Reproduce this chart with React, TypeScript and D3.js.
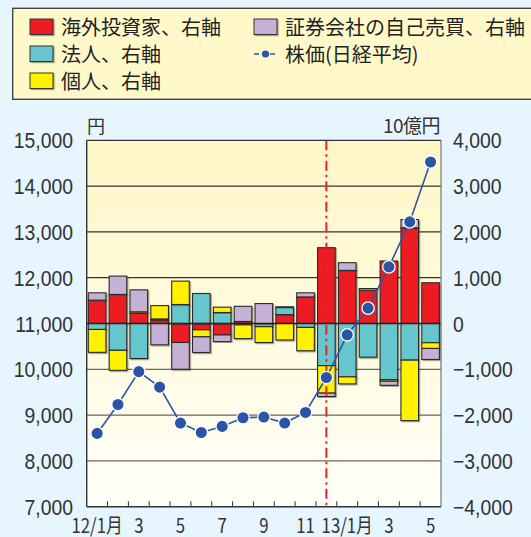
import * as d3 from "d3";

const months = ["12/1月", "2", "3", "4", "5", "6", "7", "8", "9", "10", "11", "12", "13/1月", "2", "3", "4", "5"];
const shownTicks = ["12/1月", "3", "5", "7", "9", "11", "13/1月"];

// 10億円, net buying (+) / selling (-)
const foreign = [510, 635, 220, 75, -415, -138, -250, 45, 0, 195, 580, 1655, 1160, 730, 1365, 2090, 890];
const corporate = [-130, -585, -765, 25, 415, 655, 240, -30, -70, 150, -85, -920, -1165, -735, -1225, -800, -420];
const individual = [-500, -437, 35, 290, 510, -153, 117, -300, -345, -360, -510, -600, -153, 35, -35, -1320, -125];
const dealer = [160, 400, 480, -465, -583, -342, -145, 330, 435, 20, 90, -75, 168, 0, -90, 180, -240];

// 日経平均 (円)
const nikkei = [8600, 9232, 9950, 9610, 8826, 8621, 8753, 8942, 8957, 8826, 9058, 9821, 10753, 11335, 12236, 13218, 14527];

const leftTicks = [7000, 8000, 9000, 10000, 11000, 12000, 13000, 14000, 15000];
const rightTicks = [-4000, -3000, -2000, -1000, 0, 1000, 2000, 3000, 4000];

const seriesKeys = ["foreign", "corporate", "individual", "dealer"];
const seriesColors: Record<string, string> = {
  foreign: "#ED1C24",
  corporate: "#66C6CE",
  individual: "#FFF100",
  dealer: "#C6B1D6",
};

const W = 531;
const H = 537;
const plot = { left: 86.7, right: 441, top: 140.3, bottom: 506.7 };
const JP = "'Noto Sans CJK JP', 'Noto Sans', sans-serif";
const NUM = "'Liberation Sans', Arial, sans-serif";
const SQX = 0.88; // horizontal squeeze for the narrow numerals

export default function App() {
  const rows = months.map((m, i) => ({
    month: m,
    foreign: foreign[i],
    corporate: corporate[i],
    individual: individual[i],
    dealer: dealer[i],
  }));

  const slot = (plot.right - plot.left) / months.length;
  const xc = (i: number) => plot.left + slot * (i + 0.5);
  const barW = slot * 0.845;

  const yL = d3.scaleLinear().domain([7000, 15000]).range([plot.bottom, plot.top]);
  const yR = d3.scaleLinear().domain([-4000, 4000]).range([plot.bottom, plot.top]);

  const stacked = d3
    .stack<any>()
    .keys(seriesKeys)
    .offset(d3.stackOffsetDiverging)(rows);

  const line = d3
    .line<number>()
    .x((_, i) => xc(i))
    .y((d) => yL(d));

  const legendItems = [
    { label: "海外投資家、右軸", color: seriesColors.foreign, col: 0, row: 0 },
    { label: "法人、右軸", color: seriesColors.corporate, col: 0, row: 1 },
    { label: "個人、右軸", color: seriesColors.individual, col: 0, row: 2 },
    { label: "証券会社の自己売買、右軸", color: seriesColors.dealer, col: 1, row: 0 },
  ];
  const legCol = [30, 254];
  const legRow = [27, 54, 81];

  const divX = xc(11);
  const fmt = d3.format(",");

  return (
    <svg
      width={W}
      height={H}
      style={{ position: "absolute", left: 0, top: 0, display: "block" }}
    >
      <defs>
        <linearGradient id="plotbg" x1="0" y1="0" x2="0" y2="1">
          <stop offset="0%" stopColor="#FFF7C6" />
          <stop offset="100%" stopColor="#FFFFF7" />
        </linearGradient>
        <filter id="shadow" x="-20%" y="-20%" width="140%" height="140%">
          <feDropShadow dx="1.2" dy="1.2" stdDeviation="0.7" floodColor="#3a3a20" floodOpacity="0.45" />
        </filter>
      </defs>

      <rect x={0} y={0} width={W} height={H} fill="#E6F5FE" />

      {/* legend */}
      <rect x={12.7} y={8.3} width={W} height={91} fill="#FFF9CA" stroke="#444" strokeWidth={1.4} />
      {legendItems.map((d) => (
        <g key={d.label}>
          <rect
            x={legCol[d.col]}
            y={legRow[d.row] - 8}
            width={23}
            height={15.5}
            fill={d.color}
            stroke="#333"
            strokeWidth={1}
            filter="url(#shadow)"
          />
          <text
            x={legCol[d.col] + 31}
            y={legRow[d.row] + 7.5}
            fontFamily={JP}
            fontSize={20}
            fill="#222"
          >
            {d.label}
          </text>
        </g>
      ))}
      <g>
        <line x1={legCol[1]} x2={legCol[1] + 23} y1={legRow[1]} y2={legRow[1]} stroke="#2B56A6" strokeWidth={1.4} strokeDasharray="5,3" />
        <circle cx={legCol[1] + 11.5} cy={legRow[1]} r={3.6} fill="#2B56A6" />
        <text x={legCol[1] + 31} y={legRow[1] + 7.5} fontFamily={JP} fontSize={20} fill="#222">
          株価(日経平均)
        </text>
      </g>

      {/* plot area */}
      <rect
        x={plot.left}
        y={plot.top}
        width={plot.right - plot.left}
        height={plot.bottom - plot.top}
        fill="url(#plotbg)"
      />
      {leftTicks
        .filter((t) => t !== 7000 && t !== 15000 && t !== 11000)
        .map((t) => (
          <line
            key={t}
            x1={plot.left}
            x2={plot.right}
            y1={yL(t)}
            y2={yL(t)}
            stroke={t > 11000 ? "#333" : "#666"}
            strokeWidth={1.2}
          />
        ))}

      {/* bars */}
      {stacked.map((s) => (
        <g key={s.key} fill={seriesColors[s.key]}>
          {s.map((d, i) =>
            Math.abs(d[1] - d[0]) < 1e-6 ? null : (
              <rect
                key={i}
                x={xc(i) - barW / 2}
                y={yR(Math.max(d[0], d[1]))}
                width={barW}
                height={Math.abs(yR(d[0]) - yR(d[1]))}
                stroke="#2a2a2a"
                strokeWidth={1.1}
                filter="url(#shadow)"
              />
            )
          )}
        </g>
      ))}

      {/* zero line */}
      <line x1={plot.left} x2={plot.right} y1={yR(0)} y2={yR(0)} stroke="#222" strokeWidth={1.3} />

      {/* divider */}
      <line
        x1={divX}
        x2={divX}
        y1={plot.top}
        y2={plot.bottom}
        stroke="#E8212B"
        strokeWidth={2}
        strokeDasharray="10,4,2.5,4"
      />

      {/* nikkei line */}
      <path d={line(nikkei) ?? ""} fill="none" stroke="#2B56A6" strokeWidth={1.6} />
      {nikkei.map((v, i) => (
        <circle key={i} cx={xc(i)} cy={yL(v)} r={6.2} fill="#2A55A5" stroke="#fff" strokeWidth={1.3} />
      ))}

      {/* frame */}
      <line x1={plot.left} x2={plot.right} y1={plot.top} y2={plot.top} stroke="#333" strokeWidth={1.2} />
      <line x1={plot.right} x2={plot.right} y1={plot.top} y2={plot.bottom} stroke="#777" strokeWidth={1.2} />
      <line x1={plot.left} x2={plot.left} y1={plot.top} y2={plot.bottom} stroke="#333" strokeWidth={1.4} />
      <line x1={plot.left} x2={plot.right} y1={plot.bottom} y2={plot.bottom} stroke="#333" strokeWidth={1.4} />
      {d3.range(1, months.length).map((i) => (
        <line
          key={i}
          x1={plot.left + slot * i}
          x2={plot.left + slot * i}
          y1={plot.bottom - 5.5}
          y2={plot.bottom}
          stroke="#333"
          strokeWidth={1}
        />
      ))}

      {/* left axis */}
      {leftTicks.map((t) => (
        <text
          key={t}
          transform={`translate(73,${yL(t) + 8}) scale(${SQX},1)`}
          textAnchor="end"
          fontFamily={NUM}
          fontSize={22}
          fill="#333"
        >
          {fmt(t)}
        </text>
      ))}
      {/* right axis */}
      {rightTicks.map((t) => (
        <text
          key={t}
          transform={`translate(453,${yR(t) + 8}) scale(${SQX},1)`}
          textAnchor="start"
          fontFamily={NUM}
          fontSize={22}
          fill="#333"
        >
          {t < 0 ? "−" + fmt(-t) : fmt(t)}
        </text>
      ))}
      <text x={87} y={133} fontFamily={JP} fontSize={18} fill="#333">
        円
      </text>
      <text x={440} y={133} textAnchor="end" fontFamily={JP} fontSize={19} letterSpacing={-0.5} fill="#333">
        10億円
      </text>

      {/* x labels */}
      {months.map((m, i) =>
        shownTicks.includes(m) && i % 2 === 0 ? (
          <text
            key={i}
            transform={`translate(${xc(i)},533) scale(0.84,1)`}
            textAnchor="middle"
            fontFamily={JP}
            fontSize={20}
            fill="#333"
          >
            {m}
          </text>
        ) : null
      )}
    </svg>
  );
}
